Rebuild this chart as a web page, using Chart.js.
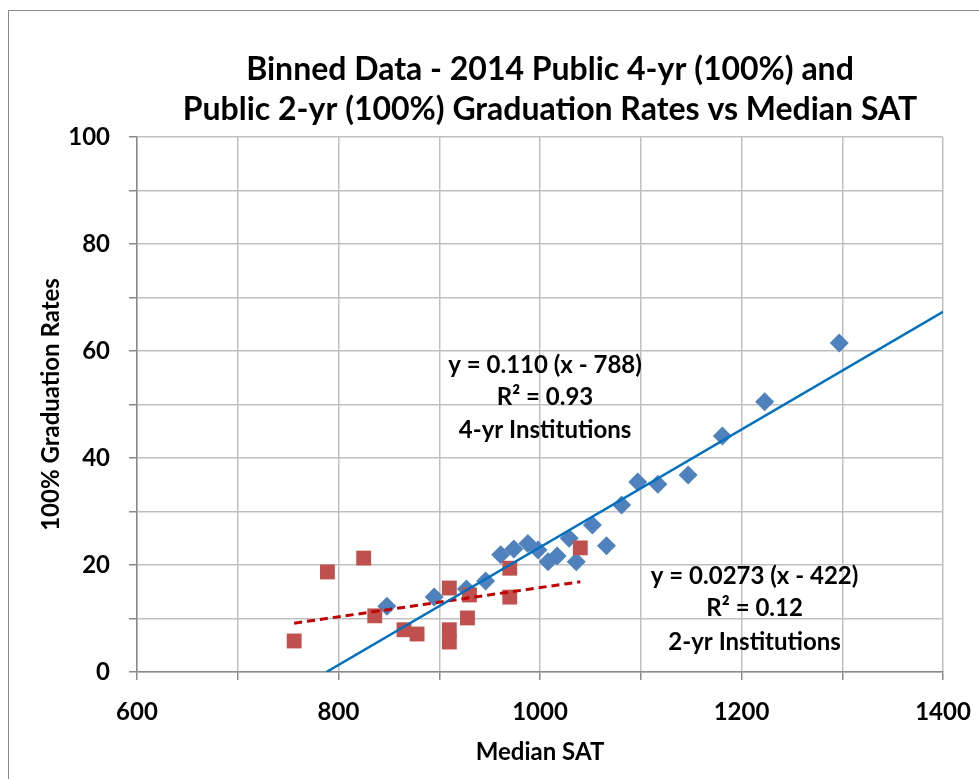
<!DOCTYPE html>
<html>
<head>
<meta charset="utf-8">
<script src="https://cdn.jsdelivr.net/npm/chart.js@4.4.0/dist/chart.umd.min.js"></script>
<style>
    html, body { margin: 0; padding: 0; background: #fff; width: 979px; height: 779px; overflow: hidden; }
    #moldura { position: absolute; left: 8px; top: 10px; width: 1200px; height: 900px; border: 1px solid #8a8a8a; }
    #grafico { position: absolute; left: 0; top: 0; }
</style>
</head>
<body>
<div id="moldura"></div>
<canvas id="grafico" width="1100" height="800"></canvas>
<script>
// 4-yr publicas (losangos azuis)
const satQuatroAnos = [848, 895, 927, 946, 961, 974, 988, 998, 1008, 1017, 1029, 1036, 1052, 1066, 1081, 1097, 1117, 1147, 1181, 1223, 1297];
const taxaQuatroAnos = [12.3, 14.0, 15.5, 17.0, 21.9, 23.0, 24.0, 22.8, 20.6, 21.7, 25.0, 20.6, 27.5, 23.6, 31.2, 35.5, 35.1, 36.8, 44.1, 50.5, 61.5];

// 2-yr publicas (quadrados vermelhos)
const satDoisAnos = [756, 789, 825, 836, 865, 878, 910, 910, 910, 928, 930, 970, 970, 1040];
const taxaDoisAnos = [5.8, 18.7, 21.3, 10.5, 7.9, 7.1, 15.7, 7.9, 5.6, 10.1, 14.4, 19.4, 14.0, 23.2];

// linhas de tendencia: y = inclinacao * (x - interceptoX)
const inclinacoes = [0.110, 0.0273];
const interceptosX = [788, 422];
const textosQuatro = ['y = 0.110 (x - 788)', 'R\u00B2 = 0.93', '4-yr Institutions'];
const textosDois = ['y = 0.0273 (x - 422)', 'R\u00B2 = 0.12', '2-yr Institutions'];

const ticksX = [600, 800, 1000, 1200, 1400];
const ticksY = [0, 20, 40, 60, 80, 100];

const fonte = 'Lato, "Liberation Sans", sans-serif';

function pares(xs, ys) {
    return xs.map((x, i) => ({ x: x, y: ys[i] }));
}

function tendencia(i, x0, x1) {
    return [
        { x: x0, y: inclinacoes[i] * (x0 - interceptosX[i]) },
        { x: x1, y: inclinacoes[i] * (x1 - interceptosX[i]) }
    ];
}

// posicoes dos rotulos das equacoes (em unidades do grafico)
const rotulos = [
    { x: 1005, ys: [57.4, 51.3, 45.2], textos: textosQuatro },
    { x: 1213, ys: [17.9, 11.9, 5.6], textos: textosDois }
];

const pluginRotulos = {
    id: 'rotulos',
    afterDatasetsDraw(chart) {
        const ctx = chart.ctx;
        ctx.save();
        ctx.font = 'bold 24px ' + fonte;
        ctx.fillStyle = '#000';
        ctx.textAlign = 'center';
        ctx.textBaseline = 'middle';
        for (let r of rotulos) {
            const px = chart.scales.x.getPixelForValue(r.x);
            r.textos.forEach((t, i) => {
                ctx.fillText(t, px, chart.scales.y.getPixelForValue(r.ys[i]));
            });
        }
        ctx.restore();
    }
};

const minDois = Math.min(...satDoisAnos);
const maxDois = Math.max(...satDoisAnos);

new Chart(document.getElementById('grafico').getContext('2d'), {
    type: 'scatter',
    data: {
        datasets: [
            {
                type: 'line',
                data: tendencia(0, interceptosX[0], 1400),
                borderColor: '#0070C0',
                borderWidth: 2.5,
                pointRadius: 0,
                order: 1
            },
            {
                type: 'line',
                data: tendencia(1, minDois, maxDois),
                borderColor: '#C00000',
                borderWidth: 3,
                borderDash: [8, 5],
                pointRadius: 0,
                order: 2
            },
            {
                data: pares(satDoisAnos, taxaDoisAnos),
                pointStyle: 'rect',
                pointRadius: 10.5,
                backgroundColor: '#C0504D',
                borderColor: '#C0504D',
                borderWidth: 0,
                order: 3
            },
            {
                data: pares(satQuatroAnos, taxaQuatroAnos),
                pointStyle: 'rectRot',
                pointRadius: 9.5,
                backgroundColor: '#4F81BD',
                borderColor: '#4F81BD',
                borderWidth: 0,
                order: 4
            }
        ]
    },
    options: {
        responsive: false,
        animation: false,
        layout: { padding: 0 },
        plugins: {
            legend: { display: false },
            tooltip: { enabled: false },
            title: {
                display: true,
                text: ['Binned Data - 2014 Public 4-yr (100%) and', 'Public 2-yr (100%) Graduation Rates vs Median SAT'],
                color: '#000',
                font: { family: fonte, size: 32, weight: 'bold', lineHeight: 40 / 32 },
                padding: { top: 50, bottom: 7 }
            }
        },
        scales: {
            x: {
                type: 'linear',
                min: 600,
                max: 1400,
                ticks: {
                    stepSize: 100,
                    autoSkip: false,
                    maxRotation: 0,
                    padding: 18,
                    color: '#000',
                    font: { family: fonte, size: 24, weight: 'bold' },
                    callback: (v) => ticksX.includes(v) ? String(v) : ''
                },
                grid: { color: '#BFBFBF', tickColor: '#8a8a8a', tickLength: 8, lineWidth: 1.5 },
                border: { color: '#8a8a8a', width: 1.5 },
                title: {
                    display: true,
                    text: 'Median SAT',
                    color: '#000',
                    font: { family: fonte, size: 24, weight: 'bold' },
                    padding: { bottom: 33 }
                },
                afterFit: (s) => { s.height = 128; }
            },
            y: {
                min: 0,
                max: 100,
                ticks: {
                    stepSize: 10,
                    autoSkip: false,
                    padding: 19,
                    color: '#000',
                    font: { family: fonte, size: 24, weight: 'bold' },
                    callback: (v) => ticksY.includes(v) ? String(v) : ''
                },
                grid: { color: '#BFBFBF', tickColor: '#8a8a8a', tickLength: 8, lineWidth: 1.5 },
                border: { color: '#8a8a8a', width: 1.5 },
                title: {
                    display: true,
                    text: '100% Graduation Rates',
                    color: '#000',
                    font: { family: fonte, size: 24, weight: 'bold' },
                    padding: { top: 37 }
                },
                afterFit: (s) => { s.width = 137; }
            },
            // eixo vazio a direita so para reservar o espaco do quadro do Excel
            direita: {
                position: 'right',
                grid: { display: false },
                border: { display: false },
                ticks: { display: false },
                afterFit: (s) => { s.width = 157; }
            }
        }
    },
    plugins: [pluginRotulos]
});
</script>
</body>
</html>
